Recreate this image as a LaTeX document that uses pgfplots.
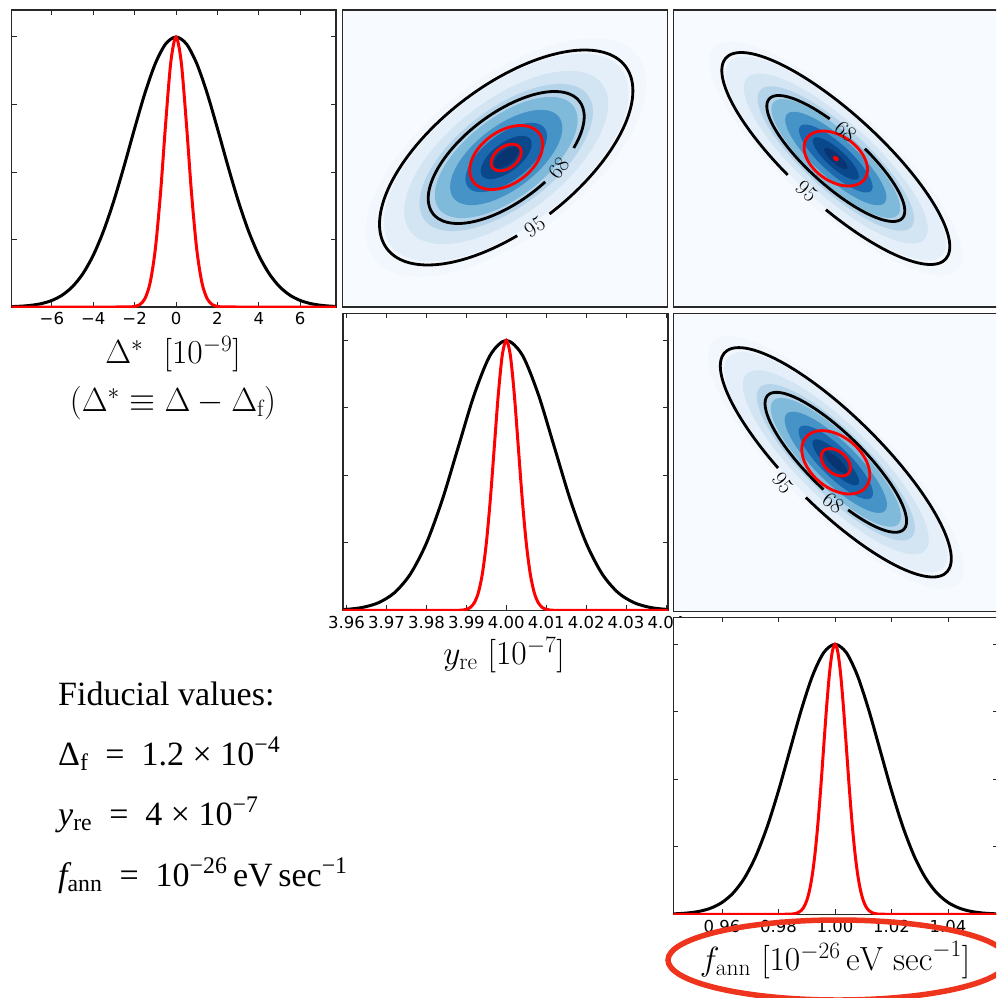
\RequirePackage{fix-cm}
\documentclass[border=0pt]{standalone}
\usepackage{pgfplots}
\pgfplotsset{compat=1.18}
\usepackage{pgfplotstable}
\usepackage{fontspec}
\newfontfamily\dvs{DejaVu Sans}
\newfontfamily\tnr{Liberation Serif}
\definecolor{bgblue}{RGB}{247,251,255}
\definecolor{h1}{RGB}{242,247,253}
\definecolor{h2}{RGB}{229,239,249}
\definecolor{h3}{RGB}{211,228,243}
\definecolor{h4}{RGB}{182,212,233}
\definecolor{h5}{RGB}{128,186,219}
\definecolor{h6}{RGB}{70,148,199}
\definecolor{h7}{RGB}{28,104,174}
\definecolor{h8}{RGB}{10,72,140}
\definecolor{h9}{RGB}{8,53,114}
\definecolor{annored}{RGB}{238,52,28}
\definecolor{framecol}{RGB}{40,40,40}

% unit circle, t in degrees (0..720, step 5), c = cos t, s = sin t
\pgfplotstableread{
t c s
0 1.0000 0.0000
5 0.9962 0.0872
10 0.9848 0.1736
15 0.9659 0.2588
20 0.9397 0.3420
25 0.9063 0.4226
30 0.8660 0.5000
35 0.8192 0.5736
40 0.7660 0.6428
45 0.7071 0.7071
50 0.6428 0.7660
55 0.5736 0.8192
60 0.5000 0.8660
65 0.4226 0.9063
70 0.3420 0.9397
75 0.2588 0.9659
80 0.1736 0.9848
85 0.0872 0.9962
90 0.0000 1.0000
95 -0.0872 0.9962
100 -0.1736 0.9848
105 -0.2588 0.9659
110 -0.3420 0.9397
115 -0.4226 0.9063
120 -0.5000 0.8660
125 -0.5736 0.8192
130 -0.6428 0.7660
135 -0.7071 0.7071
140 -0.7660 0.6428
145 -0.8192 0.5736
150 -0.8660 0.5000
155 -0.9063 0.4226
160 -0.9397 0.3420
165 -0.9659 0.2588
170 -0.9848 0.1736
175 -0.9962 0.0872
180 -1.0000 0.0000
185 -0.9962 -0.0872
190 -0.9848 -0.1736
195 -0.9659 -0.2588
200 -0.9397 -0.3420
205 -0.9063 -0.4226
210 -0.8660 -0.5000
215 -0.8192 -0.5736
220 -0.7660 -0.6428
225 -0.7071 -0.7071
230 -0.6428 -0.7660
235 -0.5736 -0.8192
240 -0.5000 -0.8660
245 -0.4226 -0.9063
250 -0.3420 -0.9397
255 -0.2588 -0.9659
260 -0.1736 -0.9848
265 -0.0872 -0.9962
270 0.0000 -1.0000
275 0.0872 -0.9962
280 0.1736 -0.9848
285 0.2588 -0.9659
290 0.3420 -0.9397
295 0.4226 -0.9063
300 0.5000 -0.8660
305 0.5736 -0.8192
310 0.6428 -0.7660
315 0.7071 -0.7071
320 0.7660 -0.6428
325 0.8192 -0.5736
330 0.8660 -0.5000
335 0.9063 -0.4226
340 0.9397 -0.3420
345 0.9659 -0.2588
350 0.9848 -0.1736
355 0.9962 -0.0872
360 1.0000 0.0000
365 0.9962 0.0872
370 0.9848 0.1736
375 0.9659 0.2588
380 0.9397 0.3420
385 0.9063 0.4226
390 0.8660 0.5000
395 0.8192 0.5736
400 0.7660 0.6428
405 0.7071 0.7071
410 0.6428 0.7660
415 0.5736 0.8192
420 0.5000 0.8660
425 0.4226 0.9063
430 0.3420 0.9397
435 0.2588 0.9659
440 0.1736 0.9848
445 0.0872 0.9962
450 0.0000 1.0000
455 -0.0872 0.9962
460 -0.1736 0.9848
465 -0.2588 0.9659
470 -0.3420 0.9397
475 -0.4226 0.9063
480 -0.5000 0.8660
485 -0.5736 0.8192
490 -0.6428 0.7660
495 -0.7071 0.7071
500 -0.7660 0.6428
505 -0.8192 0.5736
510 -0.8660 0.5000
515 -0.9063 0.4226
520 -0.9397 0.3420
525 -0.9659 0.2588
530 -0.9848 0.1736
535 -0.9962 0.0872
540 -1.0000 0.0000
545 -0.9962 -0.0872
550 -0.9848 -0.1736
555 -0.9659 -0.2588
560 -0.9397 -0.3420
565 -0.9063 -0.4226
570 -0.8660 -0.5000
575 -0.8192 -0.5736
580 -0.7660 -0.6428
585 -0.7071 -0.7071
590 -0.6428 -0.7660
595 -0.5736 -0.8192
600 -0.5000 -0.8660
605 -0.4226 -0.9063
610 -0.3420 -0.9397
615 -0.2588 -0.9659
620 -0.1736 -0.9848
625 -0.0872 -0.9962
630 0.0000 -1.0000
635 0.0872 -0.9962
640 0.1736 -0.9848
645 0.2588 -0.9659
650 0.3420 -0.9397
655 0.4226 -0.9063
660 0.5000 -0.8660
665 0.5736 -0.8192
670 0.6428 -0.7660
675 0.7071 -0.7071
680 0.7660 -0.6428
685 0.8192 -0.5736
690 0.8660 -0.5000
695 0.9063 -0.4226
700 0.9397 -0.3420
705 0.9659 -0.2588
710 0.9848 -0.1736
715 0.9962 -0.0872
720 1.0000 0.0000
}\circtab

% #1 style, #2 cx, #3 cy, #4 half x extent, #5 half y extent, #6 rho, #7 sqrt(1-rho^2), #8 index range
\newcommand{\ellplot}[8]{%
  \addplot[#1, restrict expr to domain={\coordindex}{#8}] table[x expr={#2+#4*\thisrow{c}}, y expr={#3+#5*(#6*\thisrow{c}+#7*\thisrow{s})}] {\circtab};}
% heat map levels: #1 cx, #2 cy, #3 sigma x, #4 sigma y, #5 rho, #6 sqrt(1-rho^2)
\newcommand{\heat}[6]{%
  \ellplot{fill=h1,draw=none,smooth}{#1}{#2}{2.75*#3}{2.75*#4}{#5}{#6}{0:72}
  \ellplot{fill=h2,draw=none,smooth}{#1}{#2}{2.4*#3}{2.4*#4}{#5}{#6}{0:72}
  \ellplot{fill=h3,draw=none,smooth}{#1}{#2}{2.0*#3}{2.0*#4}{#5}{#6}{0:72}
  \ellplot{fill=h4,draw=none,smooth}{#1}{#2}{1.7*#3}{1.7*#4}{#5}{#6}{0:72}
  \ellplot{fill=h5,draw=none,smooth}{#1}{#2}{1.4*#3}{1.4*#4}{#5}{#6}{0:72}
  \ellplot{fill=h6,draw=none,smooth}{#1}{#2}{1.1*#3}{1.1*#4}{#5}{#6}{0:72}
  \ellplot{fill=h7,draw=none,smooth}{#1}{#2}{0.8*#3}{0.8*#4}{#5}{#6}{0:72}
  \ellplot{fill=h8,draw=none,smooth}{#1}{#2}{0.5*#3}{0.5*#4}{#5}{#6}{0:72}
  \ellplot{fill=h9,draw=none,smooth}{#1}{#2}{0.25*#3}{0.25*#4}{#5}{#6}{0:72}
}
\newcommand{\clab}{\fontsize{22}{24}\selectfont}
\newcommand{\labfont}{\fontsize{33.5}{40}\selectfont}

\pgfplotsset{
  oned/.style={scale only axis, width=325pt, height=297pt, anchor=north west,
    ymin=0, ymax=1.1, ytick={0.25,0.5,0.75,1}, yticklabels={},
    major tick length=5pt, tick style={framecol, line width=1pt},
    axis line style={framecol, line width=1.2pt},
    ticklabel style={font=\dvs\fontsize{16.5}{18}\selectfont},
    xticklabel style={yshift=-2pt}},
  twod/.style={scale only axis, width=325pt, height=297pt, anchor=north west,
    xmin=-162.5, xmax=162.5, ymin=-148.5, ymax=148.5, xtick=\empty, ytick=\empty,
    axis line style={framecol, line width=1.2pt},
    axis background/.style={fill=bgblue}},
  blk/.style={black, line width=3pt, smooth},
  rd/.style={red, line width=3pt, smooth},
  cblk/.style={black, line width=2.8pt, smooth},
  crd/.style={red, line width=2.8pt, smooth},
}

\begin{document}
\begin{tikzpicture}
\path[use as bounding box] (0pt,0pt) rectangle (996pt,-998pt);
\clip (0pt,0pt) rectangle (996pt,-998pt);

% ---------- Delta* 1D
\begin{axis}[oned, at={(11.7pt,-10pt)}, width=324.3pt, xmin=-7.94, xmax=7.73,
  xtick={-6,-4,-2,0,2,4,6}, xticklabels={−6,−4,−2,0,2,4,6}]
\addplot[blk] coordinates {(-8,0.0013)(-7.5,0.0030)(-7,0.0063)(-6.5,0.0127)(-6,0.0243)(-5.5,0.0439)(-5,0.0756)(-4.5,0.1234)(-4,0.1915)(-3.5,0.2821)(-3,0.3946)(-2.5,0.5243)(-2,0.6615)(-1.5,0.7926)(-1,0.9018)(-0.5,0.9745)(0,1)(0.5,0.9745)(1,0.9018)(1.5,0.7926)(2,0.6615)(2.5,0.5243)(3,0.3946)(3.5,0.2821)(4,0.1915)(4.5,0.1234)(5,0.0756)(5.5,0.0439)(6,0.0243)(6.5,0.0127)(7,0.0063)(7.5,0.0030)(8,0.0013)};
\addplot[rd] coordinates {(-8,0)(-5,0)(-4,0)(-3.5,0)(-3,0)(-2.5,0.0001)(-2.25,0.0004)(-2,0.0021)(-1.75,0.0090)(-1.5,0.0314)(-1.25,0.0903)(-1,0.2146)(-0.75,0.4208)(-0.5,0.6807)(-0.25,0.9083)(0,1)(0.25,0.9083)(0.5,0.6807)(0.75,0.4208)(1,0.2146)(1.25,0.0903)(1.5,0.0314)(1.75,0.0090)(2,0.0021)(2.25,0.0004)(2.5,0.0001)(3,0)(3.5,0)(4,0)(5,0)(8,0)};
\end{axis}

% ---------- row 1, col 2
\begin{axis}[twod, at={(342.7pt,-10pt)}]
\heat{1}{1}{51}{43.3}{0.62}{0.7846}
\ellplot{cblk}{1}{1}{126.7}{107.5}{0.62}{0.7846}{58:127}
\ellplot{cblk}{1}{1}{78}{66}{0.62}{0.7846}{66:132}
\ellplot{crd}{1}{1}{36.5}{32}{0.4}{0.9165}{0:72}
\ellplot{crd}{1}{1}{15}{13.3}{0.4}{0.9165}{0:72}
\node[rotate=33,font=\clab,inner sep=0pt] at (axis cs:29.5,-68.4) {95};
\node[rotate=52,font=\clab,inner sep=0pt] at (axis cs:53.7,-9.2) {68};
\end{axis}

% ---------- row 1, col 3
\begin{axis}[twod, at={(673.3pt,-10pt)}]
\heat{0}{0}{46}{42.5}{-0.83}{0.5578}
\ellplot{cblk}{0}{0}{114}{106}{-0.83}{0.5578}{53:121}
\ellplot{cblk}{0}{0}{69}{63}{-0.83}{0.5578}{19:85}
\ellplot{crd}{0}{0}{31.7}{27.5}{-0.4}{0.9165}{0:72}
\ellplot{red, fill=red, line width=1pt, smooth}{0}{0}{2.3}{2}{-0.4}{0.9165}{0:72}
\node[rotate=-41,font=\clab,inner sep=0pt] at (axis cs:10,27) {68};
\node[rotate=-43,font=\clab,inner sep=0pt] at (axis cs:-28.8,-32.5) {95};
\end{axis}

% ---------- y_re 1D
\begin{axis}[oned, at={(343pt,-313.4pt)}, xmin=3.9591, xmax=4.0405,
  xtick={3.96,3.97,3.98,3.99,4.00,4.01,4.02,4.03,4.04},
  xticklabels={3.96,3.97,3.98,3.99,4.00,4.01,4.02,4.03,4.04}]
\addplot[blk] coordinates {(3.952,0.0003)(3.956,0.0012)(3.960,0.0039)(3.964,0.0111)(3.968,0.0286)(3.972,0.0657)(3.976,0.1353)(3.980,0.2494)(3.984,0.4111)(3.988,0.6065)(3.992,0.8007)(3.996,0.9460)(4.000,1)(4.004,0.9460)(4.008,0.8007)(4.012,0.6065)(4.016,0.4111)(4.020,0.2494)(4.024,0.1353)(4.028,0.0657)(4.032,0.0286)(4.036,0.0111)(4.040,0.0039)(4.044,0.0012)(4.048,0.0003)};
\addplot[rd] coordinates {(3.950,0)(3.965,0)(3.975,0)(3.980,0)(3.985,0)(3.988,0.0003)(3.989,0.0012)(3.990,0.0039)(3.991,0.0111)(3.992,0.0286)(3.993,0.0657)(3.994,0.1353)(3.995,0.2494)(3.996,0.4111)(3.997,0.6065)(3.998,0.8007)(3.999,0.9460)(4.000,1)(4.001,0.9460)(4.002,0.8007)(4.003,0.6065)(4.004,0.4111)(4.005,0.2494)(4.006,0.1353)(4.007,0.0657)(4.008,0.0286)(4.009,0.0111)(4.010,0.0039)(4.011,0.0012)(4.012,0.0003)(4.015,0)(4.020,0)(4.025,0)(4.035,0)(4.050,0)};
\end{axis}

% ---------- row 2, col 3
\begin{axis}[twod, at={(673.3pt,-313.3pt)}, height=298pt, ymin=-149, ymax=149]
\heat{0}{0}{46.5}{46}{-0.84}{0.5426}
\ellplot{cblk}{0}{0}{115.5}{114.7}{-0.84}{0.5426}{51:120}
\ellplot{cblk}{0}{0}{70.8}{70}{-0.84}{0.5426}{56:124}
\ellplot{crd}{0}{0}{34}{31.7}{-0.4}{0.9165}{0:72}
\ellplot{crd}{0}{0}{14.7}{13.7}{-0.4}{0.9165}{0:72}
\node[rotate=-52,font=\clab,inner sep=0pt] at (axis cs:-53,-20.8) {95};
\node[rotate=-38,font=\clab,inner sep=0pt] at (axis cs:-2.5,-40.5) {68};
\end{axis}

% ---------- f_ann 1D
\begin{axis}[oned, at={(673.3pt,-617.3pt)}, xmin=0.94276, xmax=1.0578,
  axis background/.style={fill=white},
  xtick={0.96,0.98,1.00,1.02,1.04}, xticklabels={0.96,0.98,1.00,1.02,1.04}]
\addplot[blk] coordinates {(0.936,0.0003)(0.940,0.0009)(0.944,0.0022)(0.948,0.0051)(0.952,0.0111)(0.956,0.0228)(0.960,0.0439)(0.964,0.0796)(0.968,0.1353)(0.972,0.2163)(0.976,0.3247)(0.980,0.4578)(0.984,0.6065)(0.988,0.7548)(0.992,0.8825)(0.996,0.9692)(1.000,1)(1.004,0.9692)(1.008,0.8825)(1.012,0.7548)(1.016,0.6065)(1.020,0.4578)(1.024,0.3247)(1.028,0.2163)(1.032,0.1353)(1.036,0.0796)(1.040,0.0439)(1.044,0.0228)(1.048,0.0111)(1.052,0.0051)(1.056,0.0022)(1.060,0.0009)(1.064,0.0003)};
\addplot[rd] coordinates {(0.930,0)(0.950,0)(0.965,0)(0.975,0)(0.980,0)(0.984,0.0005)(0.985,0.0012)(0.986,0.0029)(0.987,0.0066)(0.988,0.0138)(0.989,0.0273)(0.990,0.0511)(0.991,0.0899)(0.992,0.1490)(0.993,0.2328)(0.994,0.3427)(0.995,0.4754)(0.996,0.6213)(0.997,0.7651)(0.998,0.8878)(0.999,0.9707)(1.000,1)(1.001,0.9707)(1.002,0.8878)(1.003,0.7651)(1.004,0.6213)(1.005,0.4754)(1.006,0.3427)(1.007,0.2328)(1.008,0.1490)(1.009,0.0899)(1.010,0.0511)(1.011,0.0273)(1.012,0.0138)(1.013,0.0066)(1.014,0.0029)(1.015,0.0012)(1.016,0.0005)(1.020,0)(1.025,0)(1.035,0)(1.050,0)(1.070,0)};
\end{axis}

% ---------- axis labels
\node at (173pt,-354pt) {\labfont $\Delta^*\ \ [10^{-9}]$};
\node at (173pt,-403pt) {\labfont $(\Delta^* \equiv \Delta - \Delta_{\rm f})$};
\node at (504pt,-655pt) {\labfont $y_{\rm re}\ [10^{-7}]$};
\node at (835pt,-960pt) {\labfont $f_{\rm ann}\ [10^{-26}\,{\rm eV\ sec}^{-1}]$};

% ---------- fiducial values
\begin{scope}[every node/.style={anchor=base west, inner sep=0pt, font=\tnr\fontsize{34}{40}\selectfont}]
\node at (58pt,-705pt) {Fiducial values:};
\node at (58pt,-765pt) {Δ\textsubscript{f}\enspace=\enspace1.2\ ×\ 10\textsuperscript{−4}};
\node at (58pt,-825pt) {{\itshape y}\textsubscript{re}\enspace=\enspace4\ ×\ 10\textsuperscript{−7}};
\node at (58pt,-886pt) {{\itshape f}\textsubscript{ann}\enspace=\enspace10\textsuperscript{−26}\,eV\,sec\textsuperscript{−1}};
\end{scope}

% ---------- annotation
\draw[annored, line width=5.5pt] (838pt,-960pt) ellipse [x radius=170pt, y radius=40pt];
\end{tikzpicture}
\end{document}
